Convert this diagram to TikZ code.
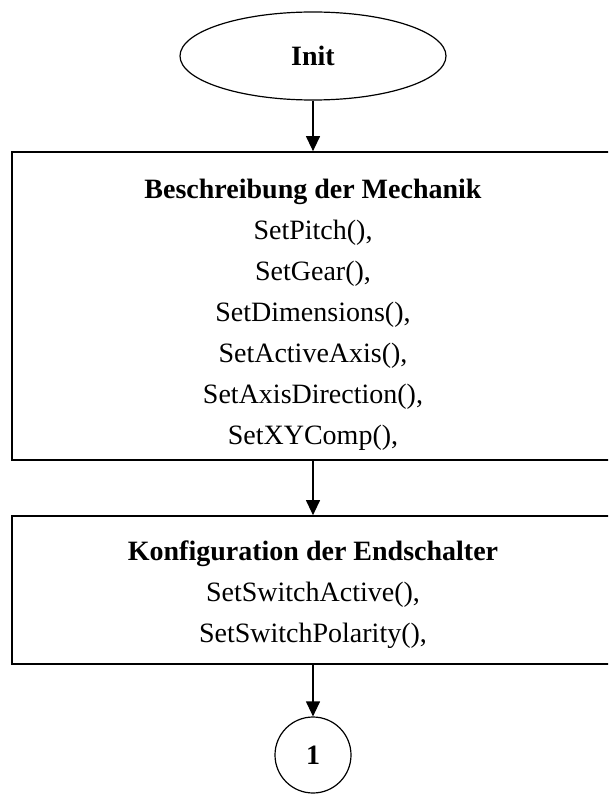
\documentclass[tikz,border=0pt]{standalone}
\usepackage{fontspec}
\setmainfont{Liberation Serif}
\usetikzlibrary{arrows.meta,shapes.geometric}

\begin{document}
\begin{tikzpicture}[x=1pt,y=-1pt,
        font=\fontsize{28}{41}\selectfont,
        startend/.style={draw,line width=1.2pt,ellipse,inner sep=0pt,
            minimum width=266pt,minimum height=88pt,font=\fontsize{28}{41}\selectfont\bfseries},
        block/.style={draw,line width=1.7pt,rectangle,inner sep=0pt,minimum width=602pt},
        lines/.style={align=center,inner sep=0pt},
        connector/.style={draw,line width=1.2pt,circle,inner sep=0pt,
            minimum size=76pt,font=\fontsize{28}{41}\selectfont\bfseries},
        flow/.style={line width=1.2pt,-{Triangle[length=15pt,width=14pt]}}]
    \clip (0,0) rectangle (608,794);
    \fill[white] (0,0) rectangle (608,794);
                \node[startend] (init) at (313,56) {Init};
                \node[block,minimum height=308pt] (mech) at (313,306) {};
                \node[lines] (mechtext) at (313,315) {\textbf{Beschreibung der Mechanik}\\
                    SetPitch(),\\ SetGear(),\\ SetDimensions(),\\ SetActiveAxis(),\\
                    SetAxisDirection(),\\ SetXYComp(),};
                \node[block,minimum height=148pt] (limit) at (313,590) {};
                \node[lines] (limittext) at (313,595) {\textbf{Konfiguration der Endschalter}\\
                    SetSwitchActive(),\\ SetSwitchPolarity(),};
                \node[connector] (conn) at (313,755) {1};
                \foreach \a/\b in {init/mech,mech/limit,limit/conn}
                    \draw[flow] (\a) -- (\b);
            \end{tikzpicture}
\end{document}
